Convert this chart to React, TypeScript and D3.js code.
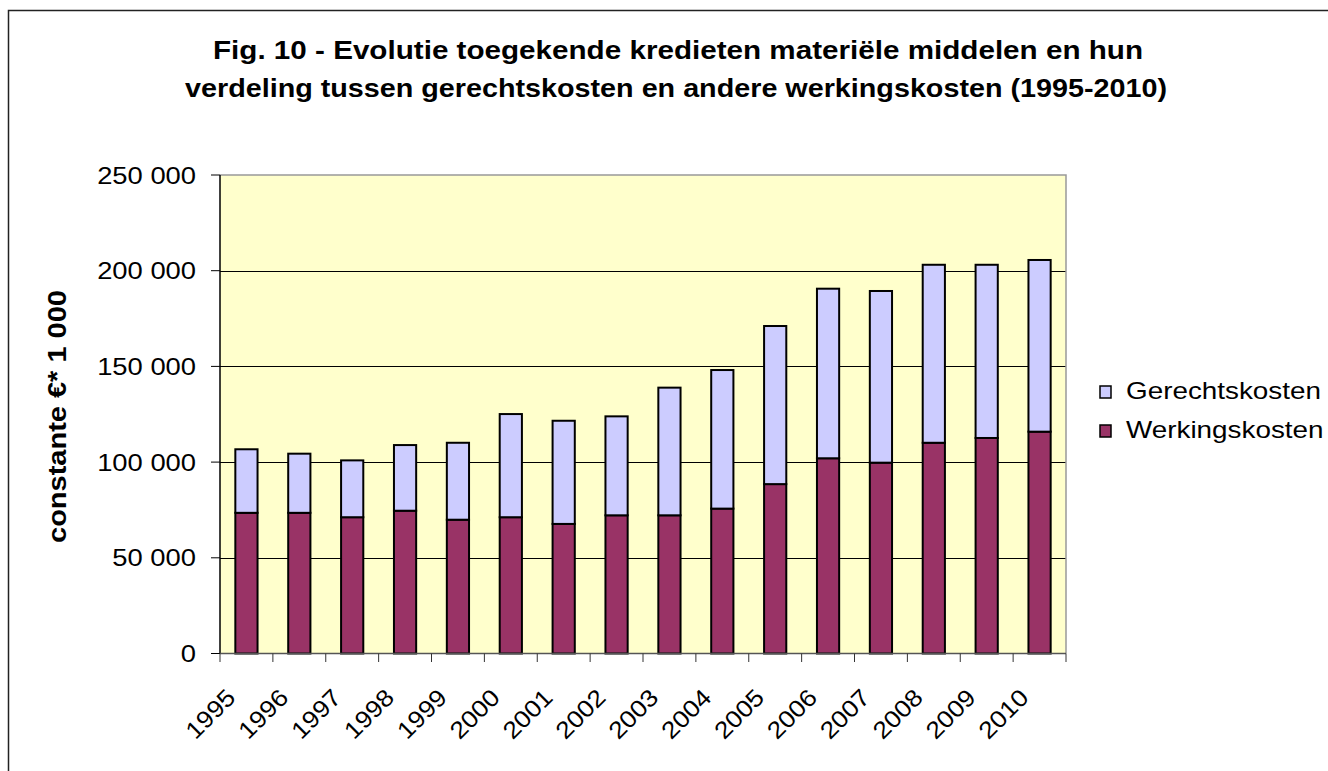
import React, { useEffect, useRef } from 'react';
import * as d3 from 'd3';

// data (constante € * 1 000)
const years = ['1995', '1996', '1997', '1998', '1999', '2000', '2001', '2002', '2003', '2004', '2005', '2006', '2007', '2008', '2009', '2010'];
const werkingskosten = [73500, 73500, 71200, 74600, 69900, 71200, 67700, 72200, 72200, 75700, 88500, 102000, 99700, 110100, 112600, 115900];
const gerechtskosten = [33200, 30900, 29700, 34300, 40200, 53900, 53900, 51700, 66700, 72400, 82600, 88600, 89700, 93000, 90500, 89700];
const yTicks = [0, 50000, 100000, 150000, 200000, 250000];
const seriesNames = ['Werkingskosten', 'Gerechtskosten'];
const seriesColors = ['#993366', '#CCCCFF'];
const titleLines = [
    'Fig. 10 - Evolutie toegekende kredieten materiële middelen en hun',
    'verdeling tussen gerechtskosten en andere werkingskosten (1995-2010)',
];
const yTitle = 'constante €* 1 000';

const App = () => {
    const svgRef = useRef(null);
    const width = 1328;
    const height = 771;

    useEffect(() => {
        const svg = d3.select(svgRef.current);
        svg.selectAll('*').remove();
        const font = '"Liberation Sans", Arial, sans-serif';

        const plot = { left: 220, right: 1066, top: 175, bottom: 653.5 };

        const x = d3.scaleBand().domain(years).range([plot.left, plot.right]).padding(0);
        const y = d3.scaleLinear().domain([0, 250000]).range([plot.bottom, plot.top]);

        // outer frame (runs off the page on the right and bottom)
        svg.append('rect')
            .attr('x', 8.5).attr('y', 10.5)
            .attr('width', 1400).attr('height', 800)
            .attr('fill', '#fff')
            .attr('stroke', '#222')
            .attr('stroke-width', 1.5);

        // title
        const title = svg.append('g').attr('font-family', font).attr('font-weight', 'bold').attr('font-size', 25);
        title.append('text')
            .attr('x', 678).attr('y', 59)
            .attr('text-anchor', 'middle')
            .attr('textLength', 930).attr('lengthAdjust', 'spacingAndGlyphs')
            .text(titleLines[0]);
        title.append('text')
            .attr('x', 676).attr('y', 97)
            .attr('text-anchor', 'middle')
            .attr('textLength', 982).attr('lengthAdjust', 'spacingAndGlyphs')
            .text(titleLines[1]);

        // plot background
        svg.append('rect')
            .attr('x', plot.left).attr('y', plot.top)
            .attr('width', plot.right - plot.left).attr('height', plot.bottom - plot.top)
            .attr('fill', '#FFFFCC');

        // gridlines
        svg.append('g')
            .selectAll('line')
            .data(yTicks.filter(d => d > 0 && d < 250000))
            .enter()
            .append('line')
            .attr('x1', plot.left).attr('x2', plot.right)
            .attr('y1', d => Math.round(y(d)) + 0.5).attr('y2', d => Math.round(y(d)) + 0.5)
            .attr('stroke', '#000')
            .attr('stroke-width', 1);

        // top / right border of plot
        svg.append('path')
            .attr('d', `M${plot.left},${plot.top} H${plot.right} V${plot.bottom}`)
            .attr('fill', 'none')
            .attr('stroke', '#999')
            .attr('stroke-width', 1.5);

        // stacked bars
        const rows = years.map((yr, i) => ({ year: yr, Werkingskosten: werkingskosten[i], Gerechtskosten: gerechtskosten[i] }));
        const stacked = d3.stack().keys(seriesNames)(rows);
        const barW = x.bandwidth() * 0.42;
        const barOff = (x.bandwidth() - barW) / 2;

        svg.append('g')
            .selectAll('g')
            .data(stacked)
            .enter()
            .append('g')
            .attr('fill', (d, i) => seriesColors[i])
            .selectAll('rect')
            .data(d => d)
            .enter()
            .append('rect')
            .attr('x', d => x(d.data.year) + barOff)
            .attr('y', d => y(d[1]))
            .attr('width', barW)
            .attr('height', d => y(d[0]) - y(d[1]))
            .attr('stroke', '#000')
            .attr('stroke-width', 2);

        // y axis
        const yAxis = svg.append('g');
        yAxis.append('line')
            .attr('x1', plot.left).attr('x2', plot.left)
            .attr('y1', plot.top).attr('y2', plot.bottom)
            .attr('stroke', '#000').attr('stroke-width', 1.5);
        yAxis.selectAll('line.tick')
            .data(yTicks)
            .enter()
            .append('line')
            .attr('class', 'tick')
            .attr('x1', plot.left - 9).attr('x2', plot.left)
            .attr('y1', d => y(d)).attr('y2', d => y(d))
            .attr('stroke', '#000').attr('stroke-width', 1);
        yAxis.selectAll('g.lbl')
            .data(yTicks)
            .enter()
            .append('g')
            .attr('class', 'lbl')
            .attr('transform', d => `translate(196, ${y(d) + 8.5}) scale(1.14, 1)`)
            .append('text')
            .attr('text-anchor', 'end')
            .attr('font-family', font)
            .attr('font-size', 24)
            .attr('fill', '#000')
            .text(d => d3.format(',')(d).replace(/,/g, ' '));

        // y title
        svg.append('g')
            .attr('transform', 'translate(66, 416.5) rotate(-90) scale(1.16, 1)')
            .append('text')
            .attr('text-anchor', 'middle')
            .attr('font-family', font)
            .attr('font-weight', 'bold')
            .attr('font-size', 25)
            .text(yTitle);

        // x axis
        const xAxis = svg.append('g');
        xAxis.append('line')
            .attr('x1', plot.left).attr('x2', plot.right)
            .attr('y1', plot.bottom).attr('y2', plot.bottom)
            .attr('stroke', '#555').attr('stroke-width', 1.5);
        const boundaries = years.map(d => x(d)).concat([plot.right]);
        xAxis.selectAll('line.tick')
            .data(boundaries)
            .enter()
            .append('line')
            .attr('class', 'tick')
            .attr('x1', d => d).attr('x2', d => d)
            .attr('y1', plot.bottom).attr('y2', plot.bottom + 8.5)
            .attr('stroke', '#333').attr('stroke-width', 1);
        xAxis.selectAll('g.lbl')
            .data(years)
            .enter()
            .append('g')
            .attr('class', 'lbl')
            .attr('transform', d => `translate(${x(d) + x.bandwidth() / 2 - 9.5}, 699) rotate(-45) scale(1.1, 1)`)
            .append('text')
            .attr('text-anchor', 'end')
            .attr('font-family', font)
            .attr('font-size', 24)
            .text(d => d);

        // legend
        const legendItems = [
            { name: 'Gerechtskosten', color: seriesColors[1], y: 399 },
            { name: 'Werkingskosten', color: seriesColors[0], y: 438 },
        ];
        const legend = svg.append('g').selectAll('g').data(legendItems).enter().append('g');
        legend.append('rect')
            .attr('x', 1100).attr('y', d => d.y - 13)
            .attr('width', 11).attr('height', 12)
            .attr('fill', d => d.color)
            .attr('stroke', '#000').attr('stroke-width', 1.5);
        legend.append('g')
            .attr('transform', d => `translate(1126, ${d.y}) scale(1.16, 1)`)
            .append('text')
            .attr('font-family', font)
            .attr('font-size', 24)
            .text(d => d.name);
    }, []);

    return (
        <svg ref={svgRef} width={width} height={height} style={{ position: 'absolute', left: 0, top: 0 }}></svg>
    );
};

export default App;
